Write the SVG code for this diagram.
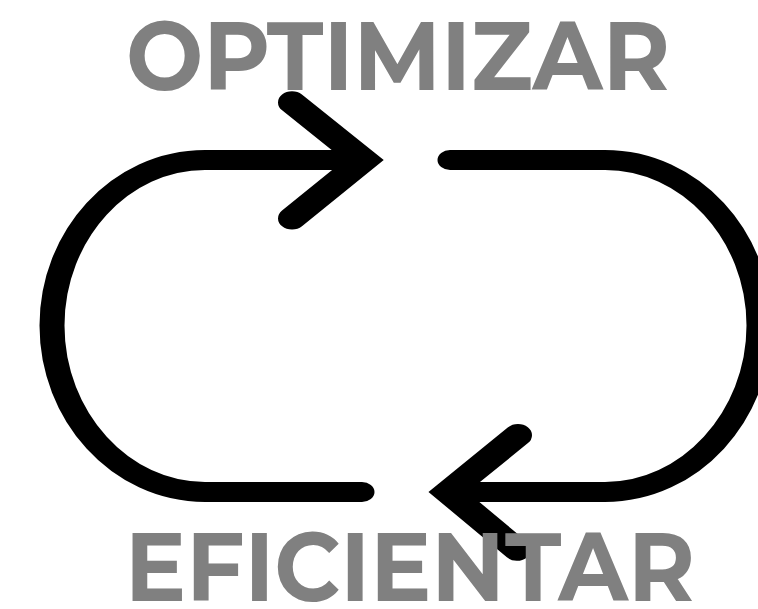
<svg xmlns="http://www.w3.org/2000/svg" width="758" height="609" viewBox="0 0 758 609">
<style>
.c{fill:none;stroke:#000;stroke-width:25;stroke-linecap:round;stroke-linejoin:miter}
.h{stroke-width:28}
.t{font-family:Montserrat,"Liberation Sans",Arial,sans-serif;font-weight:700;fill:#808080;font-size:97px}
</style>
<rect width="758" height="609" fill="#fff"/>
<g id="connectors" transform="scale(1 0.8)">
<path class="c" d="M362 200H205C120 200 52 294 52 407C52 520 120 615 205 615H362"/>
<path class="c h" d="M292 128L364 200L292 273"/>
<path class="c" d="M450 200H605C690 200 759 294 759 407C759 520 690 615 605 615H450"/>
<path class="c h" d="M518 544L448 615L517 687"/>
</g>
<g id="label-top"><text class="t" x="126" y="90" textLength="544" lengthAdjust="spacingAndGlyphs">OPTIMIZAR</text></g>
<g id="label-bottom"><text class="t" x="125" y="601" textLength="570" lengthAdjust="spacingAndGlyphs">EFICIENTAR</text></g>
</svg>
